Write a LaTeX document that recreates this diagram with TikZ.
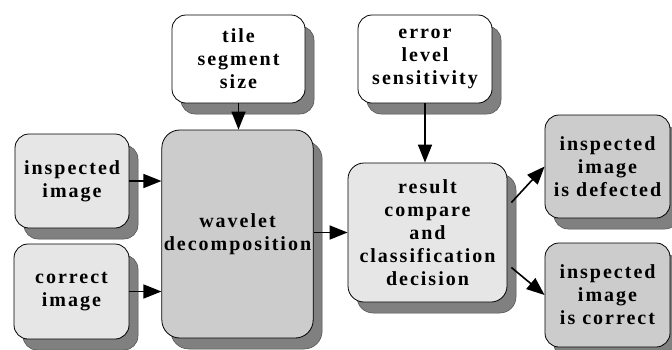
\documentclass[tikz,border=0pt]{standalone}
\usepackage{fontspec}
\setmainfont{Liberation Serif}
\newfontfamily\boxfont{Liberation Serif}[LetterSpace=10]
\usetikzlibrary{arrows.meta,calc}
\definecolor{shadowgray}{HTML}{808080}
\definecolor{lightbox}{HTML}{E6E6E6}
\definecolor{midbox}{HTML}{CCCCCC}
\tikzset{
  box/.style={draw=black, line width=0.8pt, rounded corners=14pt, align=center,
    inner sep=2pt, font=\boxfont\bfseries\fontsize{20}{23}\selectfont,
    preaction={fill=shadowgray, draw=black!70, line width=0.5pt, transform canvas={xshift=9pt,yshift=-11pt}}},
  flow/.style={line width=1.6pt, -{Triangle[length=18pt,width=14pt]}}
}
\begin{document}
\begin{tikzpicture}[x=1pt,y=-1pt]
\useasboundingbox (0,0) rectangle (672,349);
\clip (0,0) rectangle (672,349);
\node[box, fill=white, minimum width=133pt, minimum height=88pt] (tile) at (238.5,59) {tile\\segment\\size};
\node[box, fill=white, minimum width=134pt, minimum height=88pt] (err) at (425,59) {error\\level\\sensitivity};
\node[box, fill=lightbox, minimum width=114pt, minimum height=94pt] (insp) at (72,181) {inspected\\image};
\node[box, fill=lightbox, minimum width=115pt, minimum height=95pt] (corr) at (71.5,291.5) {correct\\image};
\node[box, fill=midbox, rounded corners=18pt, minimum width=151pt, minimum height=208pt] (wave) at (237.5,234) {wavelet\\decomposition};
\node[box, fill=lightbox, rounded corners=16pt, minimum width=159pt, minimum height=139pt] (res) at (427.5,232.5) {result\\compare\\and\\classification\\decision};
\node[box, fill=midbox, minimum width=125pt, minimum height=103pt] (def) at (607.5,166.5) {inspected\\image\\is defected};
\node[box, fill=midbox, minimum width=125pt, minimum height=104pt] (ok) at (607.5,295) {inspected\\image\\is correct};
\draw[flow] (tile.south) -- (tile.south |- wave.north);
\draw[flow] (err.south) -- (err.south |- res.north);
\draw[flow] (insp.east) -- (insp.east -| wave.west);
\draw[flow] (corr.east) -- (corr.east -| wave.west);
\draw[flow] (wave.east |- res.west) -- (res.west);
\draw[flow] ($(res.east)+(4,-30)$) -- (def.west);
\draw[flow] ($(res.east)+(4,35)$) -- (ok.west);
\end{tikzpicture}
\end{document}
